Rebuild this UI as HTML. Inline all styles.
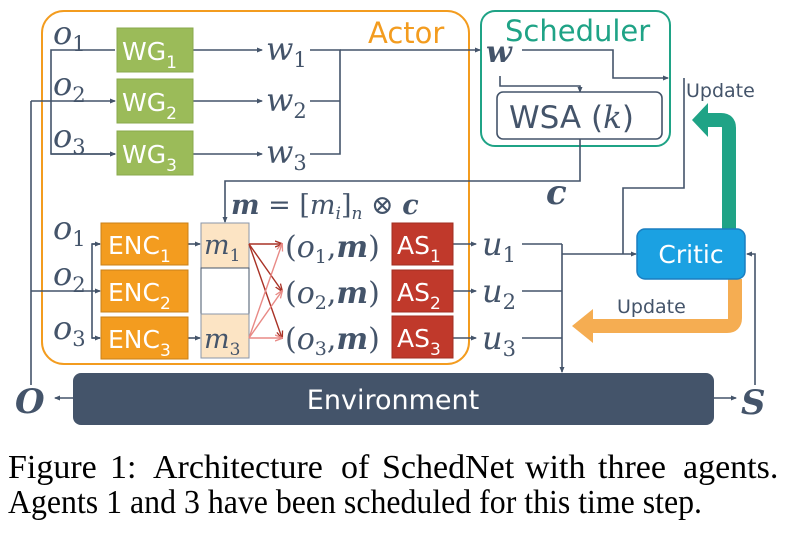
<!DOCTYPE html>
<html><head><meta charset="utf-8"><style>
html,body{margin:0;padding:0;background:#fff;}
svg{display:block;}
.sans{font-family:"DejaVu Sans","Liberation Sans",sans-serif;}
.mi{font-family:"DejaVu Serif","Liberation Serif",serif;font-style:italic;fill:#44546a;}
.cap{font-family:"Liberation Serif",serif;fill:#000;}
</style></head><body>
<svg width="795" height="534" viewBox="0 0 795 534" xmlns="http://www.w3.org/2000/svg">
<defs>
<marker id="a" markerWidth="6" markerHeight="6" refX="5" refY="3" orient="auto" markerUnits="userSpaceOnUse"><path d="M0,0.5 L6,3 L0,5.5z" fill="#44546a"/></marker>
<marker id="r1" markerWidth="8" markerHeight="8" refX="7" refY="4" orient="auto" markerUnits="userSpaceOnUse"><path d="M0,1 L8,4 L0,7" fill="none" stroke="#a93226" stroke-width="1.3"/></marker>
<marker id="r2" markerWidth="8" markerHeight="8" refX="7" refY="4" orient="auto" markerUnits="userSpaceOnUse"><path d="M0,1 L8,4 L0,7" fill="none" stroke="#e88a86" stroke-width="1.3"/></marker>
</defs>
<rect x="42" y="11" width="427" height="353" rx="22" fill="none" stroke="#f39c1f" stroke-width="2"/>
<text x="368" y="43" class="sans" font-size="29" fill="#f39c1f">Actor</text>
<rect x="481" y="11" width="189" height="135" rx="14" fill="none" stroke="#1fa386" stroke-width="2"/>
<text x="505" y="41" class="sans" font-size="29" fill="#1fa386">Scheduler</text>
<g stroke="#44546a" stroke-width="1.6" fill="none">
<polyline points="115,50 51,50 51,154 115,154" marker-end="url(#a)" />
<line x1="51" y1="154" x2="115" y2="154" marker-end="url(#a)"/>
<line x1="31" y1="101" x2="115" y2="101" marker-end="url(#a)"/>
<line x1="31" y1="101" x2="31" y2="385"/>
<line x1="193" y1="50" x2="262" y2="50" marker-end="url(#a)"/>
<line x1="193" y1="101" x2="262" y2="101" marker-end="url(#a)"/>
<line x1="193" y1="154" x2="262" y2="154" marker-end="url(#a)"/>
<polyline points="310,50 340,50 340,154 310,154"/>
<line x1="310" y1="101" x2="340" y2="101"/>
<line x1="340" y1="50" x2="480" y2="50" marker-end="url(#a)"/>
<polyline points="522,50 613,50 613,78 668,78" marker-end="url(#a)"/>
<polyline points="500,76 500,86 580,86 580,92" marker-end="url(#a)"/>
<polyline points="580,139 580,181 225,181 225,222" marker-end="url(#a)"/>
<polyline points="684,78 684,188 623,188 623,254"/>
<line x1="562" y1="254" x2="636" y2="254" marker-end="url(#a)"/>
<polyline points="100,244 92,244 92,338 100,338" />
<line x1="92" y1="244" x2="100" y2="244" marker-end="url(#a)"/>
<line x1="92" y1="338" x2="100" y2="338" marker-end="url(#a)"/>
<line x1="31" y1="291" x2="100" y2="291" marker-end="url(#a)"/>
<line x1="188" y1="244" x2="200" y2="244" marker-end="url(#a)"/>
<line x1="188" y1="338" x2="200" y2="338" marker-end="url(#a)"/>
<line x1="453" y1="244" x2="476" y2="244" marker-end="url(#a)"/>
<line x1="453" y1="291" x2="476" y2="291" marker-end="url(#a)"/>
<line x1="453" y1="338" x2="476" y2="338" marker-end="url(#a)"/>
<line x1="522" y1="244" x2="562" y2="244"/>
<line x1="522" y1="291" x2="562" y2="291"/>
<line x1="522" y1="338" x2="562" y2="338"/>
<line x1="562" y1="244" x2="562" y2="372" marker-end="url(#a)"/>
<line x1="73" y1="398" x2="55" y2="398" marker-end="url(#a)"/>
<line x1="714" y1="398" x2="736" y2="398" marker-end="url(#a)"/>
<polyline points="755,385 755,254 747,254" marker-end="url(#a)"/>
</g>
<g fill="#9bbb59" stroke="#8aa84c" stroke-width="1">
<rect x="117" y="28" width="76" height="44"/><rect x="117" y="79" width="76" height="44"/><rect x="117" y="131" width="76" height="44"/>
</g>
<g class="sans" fill="#fff" font-size="25">
<text x="122" y="60">WG<tspan font-size="17" dy="8">1</tspan></text>
<text x="122" y="111">WG<tspan font-size="17" dy="8">2</tspan></text>
<text x="122" y="163">WG<tspan font-size="17" dy="8">3</tspan></text>
</g>
<g fill="#f39c1f" stroke="#c9801a" stroke-width="1">
<rect x="101" y="223" width="87" height="42"/><rect x="101" y="270" width="87" height="42"/><rect x="101" y="317" width="87" height="42"/>
</g>
<g class="sans" fill="#fff" font-size="25">
<text x="108" y="254">ENC<tspan font-size="17" dy="8">1</tspan></text>
<text x="108" y="301">ENC<tspan font-size="17" dy="8">2</tspan></text>
<text x="108" y="348">ENC<tspan font-size="17" dy="8">3</tspan></text>
</g>
<rect x="201" y="223" width="48" height="45" fill="#fce4c4" stroke="#8a96a8"/>
<rect x="201" y="268" width="48" height="46" fill="#fff" stroke="#44546a"/>
<rect x="201" y="314" width="48" height="44" fill="#fce4c4" stroke="#8a96a8"/>
<text x="204" y="254" class="mi" font-size="27">m<tspan font-size="17" dy="7" font-style="normal">1</tspan></text>
<text x="204" y="348" class="mi" font-size="27">m<tspan font-size="17" dy="7" font-style="normal">3</tspan></text>
<g stroke-width="1.4" fill="none">
<line x1="249" y1="244" x2="282" y2="244" stroke="#a93226" marker-end="url(#r1)"/>
<line x1="249" y1="244" x2="282" y2="291" stroke="#a93226" marker-end="url(#r1)"/>
<line x1="249" y1="244" x2="282" y2="338" stroke="#a93226" marker-end="url(#r1)"/>
<line x1="249" y1="338" x2="282" y2="244" stroke="#e88a86" marker-end="url(#r2)"/>
<line x1="249" y1="338" x2="282" y2="291" stroke="#e88a86" marker-end="url(#r2)"/>
<line x1="249" y1="338" x2="282" y2="338" stroke="#e88a86" marker-end="url(#r2)"/>
</g>
<g fill="#c0392b" stroke="#a02e22" stroke-width="1">
<rect x="392" y="223" width="61" height="42"/><rect x="392" y="270" width="61" height="42"/><rect x="392" y="316" width="61" height="42"/>
</g>
<g class="sans" fill="#fff" font-size="25">
<text x="397" y="254">AS<tspan font-size="17" dy="8">1</tspan></text>
<text x="397" y="301">AS<tspan font-size="17" dy="8">2</tspan></text>
<text x="397" y="347">AS<tspan font-size="17" dy="8">3</tspan></text>
</g>
<g class="mi" font-size="32">
<text x="53" y="44">o<tspan font-size="21" dy="7" font-style="normal">1</tspan></text>
<text x="53" y="95">o<tspan font-size="21" dy="7" font-style="normal">2</tspan></text>
<text x="53" y="147">o<tspan font-size="21" dy="7" font-style="normal">3</tspan></text>
<text x="53" y="239">o<tspan font-size="21" dy="7" font-style="normal">1</tspan></text>
<text x="53" y="285">o<tspan font-size="21" dy="7" font-style="normal">2</tspan></text>
<text x="53" y="339">o<tspan font-size="21" dy="7" font-style="normal">3</tspan></text>
<text x="266" y="60">w<tspan font-size="21" dy="7" font-style="normal">1</tspan></text>
<text x="266" y="111">w<tspan font-size="21" dy="7" font-style="normal">2</tspan></text>
<text x="266" y="163">w<tspan font-size="21" dy="7" font-style="normal">3</tspan></text>
<text x="482" y="255">u<tspan font-size="21" dy="7" font-style="normal">1</tspan></text>
<text x="482" y="302">u<tspan font-size="21" dy="7" font-style="normal">2</tspan></text>
<text x="482" y="349">u<tspan font-size="21" dy="7" font-style="normal">3</tspan></text>
<text x="486" y="62" font-weight="bold" font-size="30">w</text>
<text x="546" y="204" font-weight="bold" font-size="34">c</text>
<text x="15" y="413" font-weight="bold" font-size="34">O</text>
<text x="741" y="414" font-weight="bold" font-size="34">S</text>
</g>
<g class="mi" font-size="30">
<text x="285" y="257"><tspan font-style="normal">(</tspan>o<tspan font-size="19" dy="6" font-style="normal">1</tspan><tspan dy="-6" font-style="normal">,</tspan><tspan font-weight="bold">m</tspan><tspan font-style="normal">)</tspan></text>
<text x="285" y="303"><tspan font-style="normal">(</tspan>o<tspan font-size="19" dy="6" font-style="normal">2</tspan><tspan dy="-6" font-style="normal">,</tspan><tspan font-weight="bold">m</tspan><tspan font-style="normal">)</tspan></text>
<text x="285" y="349"><tspan font-style="normal">(</tspan>o<tspan font-size="19" dy="6" font-style="normal">3</tspan><tspan dy="-6" font-style="normal">,</tspan><tspan font-weight="bold">m</tspan><tspan font-style="normal">)</tspan></text>
<text x="231" y="214" font-size="27"><tspan font-weight="bold">m</tspan><tspan font-style="normal"> = [</tspan>m<tspan font-size="17" dy="5">i</tspan><tspan dy="-5" font-style="normal">]</tspan><tspan font-size="17" dy="5">n</tspan><tspan dy="-5" font-style="normal"> ⊗ </tspan><tspan font-weight="bold">c</tspan></text>
</g>
<rect x="497" y="92" width="165" height="47" rx="6" fill="#fff" stroke="#44546a" stroke-width="1.6"/>
<text x="509" y="128" class="sans" font-size="31" fill="#44546a">WSA (<tspan class="mi" font-size="31">k</tspan>)</text>
<text x="686" y="97" class="sans" font-size="19" fill="#44546a">Update</text>
<text x="617" y="313" class="sans" font-size="19" fill="#44546a">Update</text>
<path d="M729,229 L729,128 Q729,120 721,120 L708,120" fill="none" stroke="#1fa386" stroke-width="14"/>
<path d="M708,103 L692,120 L708,137z" fill="#1fa386"/>
<path d="M735,279 L735,318 Q735,326 727,326 L590,326" fill="none" stroke="#f5ad52" stroke-width="14"/>
<path d="M593,309 L572,326 L593,343z" fill="#f5ad52"/>
<rect x="637" y="229" width="108" height="50" rx="8" fill="#1ba1e2" stroke="#1a7ec0" stroke-width="1.5"/>
<text x="691" y="263" class="sans" font-size="25" fill="#fff" text-anchor="middle">Critic</text>
<rect x="73" y="373" width="641" height="52" rx="8" fill="#44546a"/>
<text x="393" y="409" class="sans" font-size="27" fill="#fff" text-anchor="middle">Environment</text>
<text y="478" class="cap" font-size="34"><tspan x="8">Figure</tspan><tspan x="110">1:</tspan><tspan x="153">Architecture</tspan><tspan x="341">of</tspan><tspan x="382">SchedNet</tspan><tspan x="525">with</tspan><tspan x="598">three</tspan><tspan x="683">agents.</tspan></text>
<text x="8" y="513" class="cap" font-size="34" textLength="694" lengthAdjust="spacingAndGlyphs">Agents 1 and 3 have been scheduled for this time step.</text>
</svg>
</body></html>
